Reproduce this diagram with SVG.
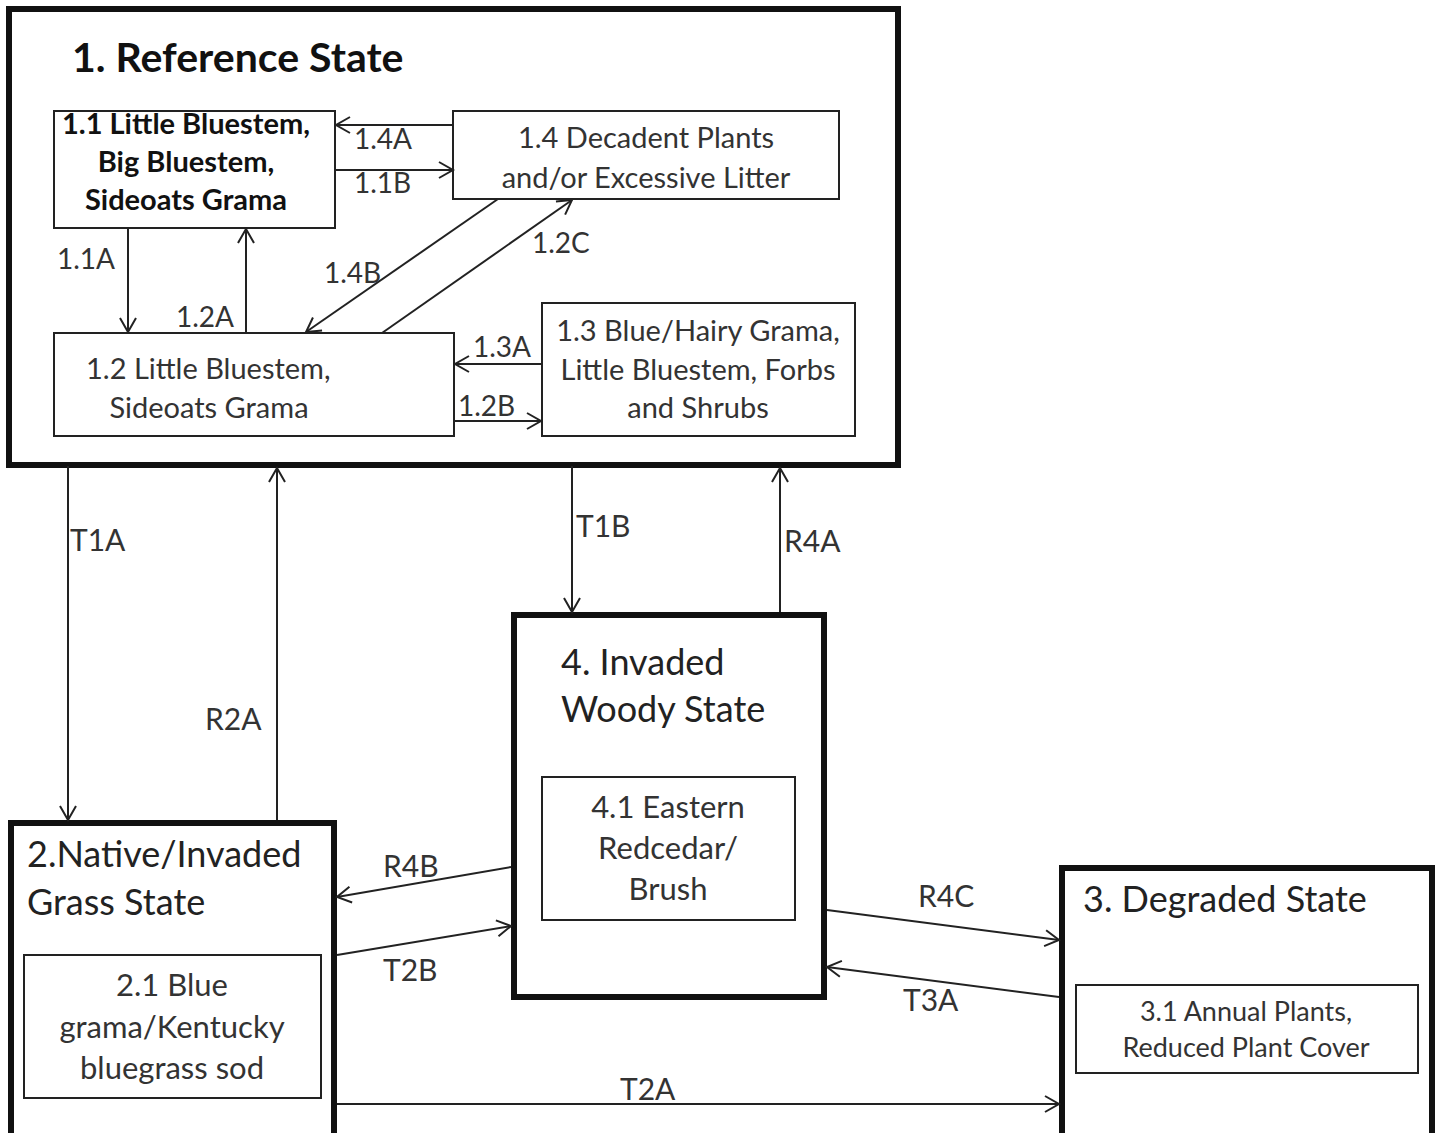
<svg xmlns="http://www.w3.org/2000/svg" width="1442" height="1133" viewBox="0 0 1442 1133">
<defs>
<marker id="arr" markerUnits="userSpaceOnUse" markerWidth="20" markerHeight="20" viewBox="0 0 20 20" refX="17" refY="10" orient="auto">
<path d="M3,2 L17,10 L3,18" fill="none" stroke="#222" stroke-width="2"/>
</marker>
</defs>
<style>
text{font-family:Lato,"Open Sans","Liberation Sans",sans-serif;fill:#333}
.thick{fill:none;stroke:#111;stroke-width:6}
.thin{fill:none;stroke:#222;stroke-width:2}
.t36{font-size:41px;font-weight:bold;fill:#111}
.b{font-size:29px;font-weight:bold;fill:#111}
.r{font-size:29px}
.t32{font-size:36px;fill:#222}
.t28{font-size:31px}
.t24{font-size:27px}
.lbl{font-size:28px}
.lbl2{font-size:30px}
.c{text-anchor:middle}
.con{stroke:#222;stroke-width:2;fill:none;marker-end:url(#arr)}
</style>
<rect width="1442" height="1133" fill="#fff"/>
<g id="state1">
<rect class="thick" x="9" y="9" width="889" height="456"/>
<text class="t36" x="72" y="72">1. Reference State</text>
</g>
<g id="n11">
<rect class="thin" x="54" y="111" width="281" height="117"/>
<text class="b c" x="186" y="134">1.1 Little Bluestem,</text>
<text class="b c" x="186" y="172">Big Bluestem,</text>
<text class="b c" x="186" y="210">Sideoats Grama</text>
</g>
<g id="n14">
<rect class="thin" x="453" y="111" width="386" height="88"/>
<text class="r c" x="646" y="148">1.4 Decadent Plants</text>
<text class="r c" x="646" y="188">and/or Excessive Litter</text>
</g>
<g id="n12">
<rect class="thin" x="54" y="333" width="400" height="103"/>
<text class="r" x="86" y="379">1.2 Little Bluestem,</text>
<text class="r c" x="209" y="418">Sideoats Grama</text>
</g>
<g id="n13">
<rect class="thin" x="542" y="303" width="313" height="133"/>
<text class="r c" x="698" y="341">1.3 Blue/Hairy Grama,</text>
<text class="r c" x="698" y="380">Little Bluestem, Forbs</text>
<text class="r c" x="698" y="418">and Shrubs</text>
</g>
<g id="state4">
<rect class="thick" x="514" y="615" width="310" height="382"/>
<text class="t32" x="561" y="675">4. Invaded</text>
<text class="t32" x="561" y="722">Woody State</text>
</g>
<g id="n41">
<rect class="thin" x="542" y="777" width="253" height="143"/>
<text class="t28 c" x="668" y="818">4.1 Eastern</text>
<text class="t28 c" x="668" y="859">Redcedar/</text>
<text class="t28 c" x="668" y="900">Brush</text>
</g>
<g id="state2">
<rect class="thick" x="11" y="823" width="323" height="320"/>
<text class="t32" x="27" y="867">2.Native/Invaded</text>
<text class="t32" x="27" y="915">Grass State</text>
</g>
<g id="n21">
<rect class="thin" x="24" y="955" width="297" height="143"/>
<text class="t28 c" x="172" y="996">2.1 Blue</text>
<text class="t28 c" x="172" y="1038">grama/Kentucky</text>
<text class="t28 c" x="172" y="1079">bluegrass sod</text>
</g>
<g id="state3">
<rect class="thick" x="1062" y="868" width="370" height="275"/>
<text class="t32" x="1083" y="912">3. Degraded State</text>
</g>
<g id="n31">
<rect class="thin" x="1076" y="985" width="342" height="88"/>
<text class="t24 c" x="1246" y="1021">3.1 Annual Plants,</text>
<text class="t24 c" x="1246" y="1057">Reduced Plant Cover</text>
</g>
<g id="connectors">
<line class="con" x1="453" y1="125" x2="336" y2="125"/>
<line class="con" x1="335" y1="170" x2="453" y2="170"/>
<line class="con" x1="128" y1="228" x2="128" y2="332"/>
<line class="con" x1="246" y1="333" x2="246" y2="229"/>
<line class="con" x1="498" y1="199" x2="306" y2="332"/>
<line class="con" x1="382" y1="333" x2="572" y2="200"/>
<line class="con" x1="542" y1="364" x2="455" y2="364"/>
<line class="con" x1="454" y1="421" x2="541" y2="421"/>
<line class="con" x1="68" y1="466" x2="68" y2="820"/>
<line class="con" x1="277" y1="820" x2="277" y2="468"/>
<line class="con" x1="572" y1="466" x2="572" y2="612"/>
<line class="con" x1="780" y1="612" x2="780" y2="468"/>
<line class="con" x1="511" y1="867" x2="337" y2="897"/>
<line class="con" x1="337" y1="955" x2="511" y2="926"/>
<line class="con" x1="827" y1="910" x2="1059" y2="940"/>
<line class="con" x1="1059" y1="997" x2="827" y2="967"/>
<line class="con" x1="337" y1="1104" x2="1059" y2="1104"/>
<text class="lbl" x="354" y="149">1.4A</text>
<text class="lbl" x="354" y="193">1.1B</text>
<text class="lbl" x="57" y="269">1.1A</text>
<text class="lbl" x="176" y="327">1.2A</text>
<text class="lbl" x="324" y="283">1.4B</text>
<text class="lbl" x="532" y="253">1.2C</text>
<text class="lbl" x="473" y="357">1.3A</text>
<text class="lbl" x="458" y="416">1.2B</text>
<text class="lbl2" x="70" y="551">T1A</text>
<text class="lbl2" x="205" y="730">R2A</text>
<text class="lbl2" x="576" y="537">T1B</text>
<text class="lbl2" x="784" y="552">R4A</text>
<text class="lbl2" x="383" y="877">R4B</text>
<text class="lbl2" x="383" y="981">T2B</text>
<text class="lbl2" x="918" y="907">R4C</text>
<text class="lbl2" x="903" y="1011">T3A</text>
<text class="lbl2" x="620" y="1100">T2A</text>
</g>
</svg>
